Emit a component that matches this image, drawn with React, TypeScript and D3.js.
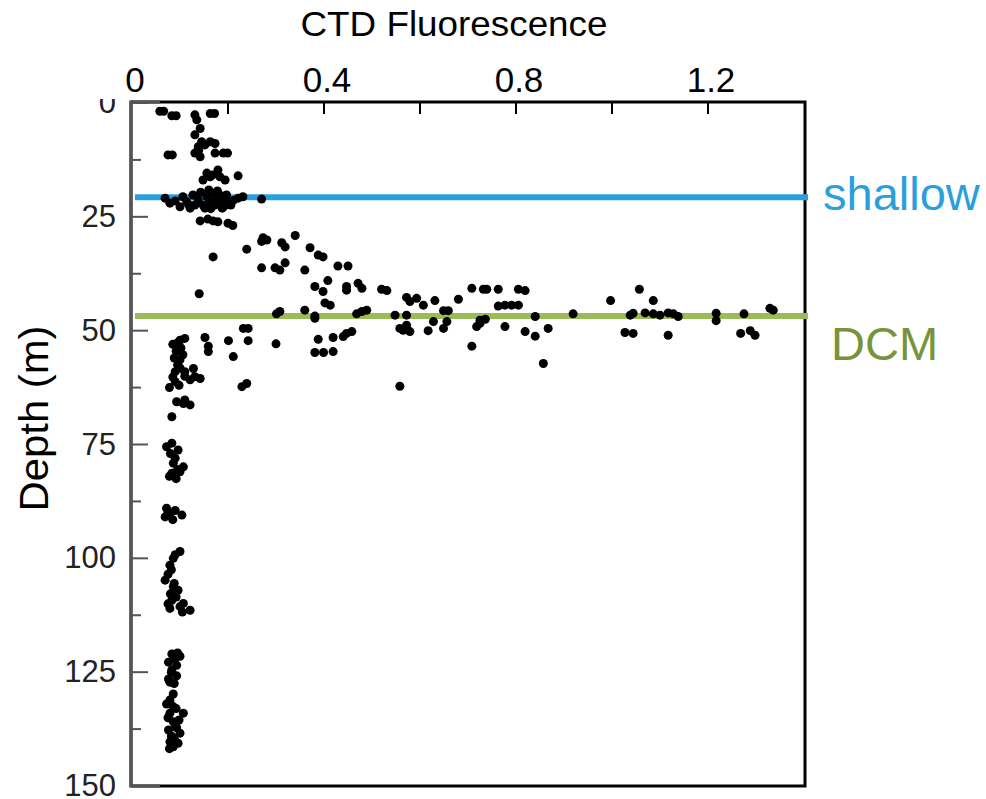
import React from "react";
import * as d3 from "d3";

type Obs = [number, number]; // [fluorescence, depth in m]

// CTD cast observations, grouped by layer
const mixedLayer: Obs[] = [
  [0.058, 1.8], [0.066, 1.8], [0.083, 2.8], [0.092, 2.8], [0.131, 2.6], [0.163, 2.3], [0.172, 2.3],
  [0.135, 3.7], [0.142, 5.6], [0.131, 7.0], [0.145, 8.5], [0.163, 8.5], [0.173, 8.9], [0.138, 9.6],
  [0.075, 11.4], [0.084, 11.4], [0.131, 11.0], [0.142, 11.8], [0.173, 11.0], [0.19, 11.0], [0.199, 11.0],
  [0.156, 15.4], [0.179, 14.7], [0.183, 16.2], [0.194, 16.9], [0.221, 16.0], [0.148, 16.9], [0.163, 16.2],
  [0.168, 15.8], [0.139, 10.4], [0.152, 9.2],
  [0.069, 20.9], [0.09, 21.5], [0.1, 22.8], [0.114, 21.7], [0.121, 23.1], [0.127, 20.2], [0.138, 21.3],
  [0.148, 22.4], [0.156, 20.6], [0.163, 21.7], [0.169, 19.8], [0.176, 20.9], [0.183, 20.2], [0.187, 21.7],
  [0.2, 21.7], [0.197, 20.2], [0.221, 20.9], [0.231, 20.6], [0.27, 21.1], [0.106, 20.6], [0.152, 23.1],
  [0.173, 22.4], [0.131, 22.4], [0.16, 19.1], [0.188, 23.1], [0.079, 22.0], [0.206, 22.4],
  [0.143, 19.6], [0.178, 19.3], [0.193, 22.6], [0.164, 23.2], [0.118, 22.3], [0.211, 21.4],
  [0.142, 25.9], [0.158, 25.5], [0.169, 25.9], [0.179, 26.1], [0.2, 26.4], [0.21, 26.9],
];

const transitionLayer: Obs[] = [
  [0.273, 29.6], [0.281, 30.1], [0.27, 30.4], [0.239, 32.1], [0.312, 30.7], [0.319, 31.6], [0.34, 29.1],
  [0.371, 31.8], [0.388, 33.4], [0.398, 33.8], [0.169, 33.8], [0.27, 36.2], [0.298, 36.2], [0.308, 36.7],
  [0.319, 35.1], [0.36, 36.7], [0.429, 35.8], [0.45, 35.8], [0.381, 40.3], [0.408, 39.0], [0.398, 41.4],
  [0.447, 40.3], [0.447, 41.1], [0.471, 39.6], [0.479, 40.7], [0.52, 40.9], [0.531, 41.2], [0.14, 41.9],
  [0.402, 43.9], [0.413, 44.4], [0.572, 42.7], [0.579, 43.6], [0.593, 42.9], [0.607, 44.4], [0.631, 43.4],
  [0.68, 43.1], [0.708, 40.7], [0.732, 40.9], [0.739, 40.9], [0.763, 40.9], [0.805, 40.9], [0.819, 41.2],
  [0.763, 44.6], [0.777, 44.4], [0.791, 44.4], [0.805, 44.4], [0.997, 43.4], [1.057, 40.9], [1.086, 43.4],
];

const dcmLayer: Obs[] = [
  [0.308, 45.8], [0.301, 46.3], [0.36, 45.5], [0.381, 46.8], [0.381, 47.3], [0.468, 46.3], [0.479, 45.8],
  [0.489, 45.5], [0.548, 46.6], [0.572, 46.6], [0.649, 45.6], [0.659, 45.6], [0.656, 48.0], [0.649, 49.5],
  [0.628, 48.0], [0.617, 50.0], [0.725, 47.7], [0.718, 49.1], [0.736, 47.5], [0.725, 48.4], [0.777, 49.1],
  [0.84, 46.9], [0.819, 50.2], [0.84, 51.2], [0.867, 49.5], [0.708, 53.4], [0.857, 57.2], [0.919, 46.3],
  [1.038, 46.6], [1.044, 46.2], [1.069, 46.1], [1.086, 46.3], [1.1, 46.6], [1.117, 46.1], [1.128, 46.3],
  [1.138, 46.9], [1.027, 50.4], [1.044, 50.6], [1.117, 51.0], [1.217, 46.2], [1.217, 47.8], [1.275, 46.3],
  [1.268, 50.6], [1.288, 50.0], [1.298, 51.0], [1.329, 45.1], [1.336, 45.5],
  [0.232, 49.5], [0.242, 49.5], [0.558, 49.5], [0.572, 48.8], [0.579, 50.2], [0.565, 49.9], [0.11, 51.7],
  [0.1, 52.1], [0.152, 51.5], [0.201, 52.2], [0.242, 52.2], [0.159, 53.4], [0.159, 54.6], [0.3, 52.9],
  [0.388, 51.9], [0.419, 51.5], [0.44, 51.3], [0.447, 50.6], [0.458, 50.2], [0.381, 54.8], [0.399, 54.8],
  [0.419, 54.6], [0.211, 55.7], [0.106, 55.3], [0.1, 56.4], [0.11, 59.0], [0.128, 58.3], [0.131, 60.1],
  [0.142, 60.5], [0.558, 62.2], [0.229, 62.3], [0.239, 61.6],
];

const deepLayer: Obs[] = [
  [0.085, 53.0], [0.092, 54.5], [0.088, 56.0], [0.095, 57.5], [0.09, 59.0], [0.085, 60.2], [0.1, 58.2],
  [0.11, 60.0], [0.098, 62.0], [0.078, 62.5], [0.09, 61.2], [0.121, 60.8], [0.102, 53.8], [0.096, 52.6],
  [0.11, 65.2], [0.093, 65.6], [0.107, 66.0], [0.121, 66.3], [0.083, 68.9],
  [0.072, 75.5], [0.083, 74.7], [0.096, 76.2], [0.086, 79.1], [0.107, 79.9], [0.083, 81.3], [0.1, 81.0],
  [0.08, 77.0], [0.09, 78.0], [0.095, 80.5], [0.078, 82.0], [0.092, 82.5],
  [0.072, 89.0], [0.079, 90.1], [0.104, 90.5], [0.069, 90.9], [0.075, 90.0], [0.085, 91.5], [0.09, 89.5],
  [0.1, 98.5], [0.086, 100.0], [0.079, 101.5], [0.069, 104.8], [0.086, 106.2], [0.096, 107.0], [0.083, 109.2],
  [0.079, 111.0], [0.1, 110.6], [0.121, 111.4], [0.107, 109.9], [0.09, 99.2], [0.082, 102.5], [0.075, 103.5],
  [0.088, 105.5], [0.08, 107.8], [0.092, 108.5], [0.075, 110.0], [0.105, 111.8],
  [0.083, 121.0], [0.1, 121.5], [0.076, 122.8], [0.093, 123.5], [0.083, 124.5], [0.076, 126.5],
  [0.093, 125.8], [0.079, 127.2], [0.09, 122.0], [0.082, 125.0], [0.095, 120.8], [0.088, 127.5],
  [0.086, 129.8], [0.079, 131.1], [0.107, 134.0], [0.079, 134.0], [0.086, 135.9], [0.076, 137.7],
  [0.1, 138.4], [0.079, 140.3], [0.086, 141.4], [0.096, 140.6], [0.085, 132.5], [0.092, 133.0],
  [0.075, 135.0], [0.09, 136.5], [0.082, 139.0], [0.093, 137.2], [0.078, 141.8], [0.088, 139.5],
  [0.098, 135.5], [0.072, 132.0],
];

// Axis ticks
const xTickValues = [0.2, 0.4, 0.6, 0.8, 1.0, 1.2];
const xLabelValues = [0, 0.4, 0.8, 1.2];
const yMajorTicks = [0, 25, 50, 75, 100, 125, 150];
const yMinorTicks = [12.5, 37.5, 62.5, 87.5, 112.5, 137.5];

// Reference depths (m)
const referenceNames = ["shallow", "DCM"];
const referenceDepths = [20.7, 46.8];

const WIDTH = 986;
const HEIGHT = 799;
const FONT = "Liberation Sans, Arial, Helvetica, sans-serif";

const refStyle: Record<string, { line: string; text: string; dx: number; dy: number }> = {
  shallow: { line: "#2a9fdc", text: "#2a9fdc", dx: 19, dy: 13 },
  DCM: { line: "#9bbb59", text: "#77933c", dx: 27, dy: 44 },
};

export default function App() {
  const x = d3.scaleLinear().domain([0, 1.4]).range([132, 804]);
  const y = d3.scaleLinear().domain([0, 150]).range([103, 786]);

  const [x0, x1] = x.range();
  const [y0, y1] = y.range();
  const all = [...mixedLayer, ...transitionLayer, ...dcmLayer, ...deepLayer];
  const fmt = d3.format("~g");

  return (
    <svg
      width={WIDTH}
      height={HEIGHT}
      style={{ position: "absolute", left: 0, top: 0, background: "#fff" }}
      fontFamily={FONT}
    >
      <defs>
        <clipPath id="ylabel-clip">
          <rect x={0} y={y0 - 4} width={x0} height={HEIGHT} />
        </clipPath>
      </defs>

      {/* frame */}
      <rect x={x0 - 1} y={y0 - 1} width={x1 - x0 + 2} height={y1 - y0 + 1} fill="none" stroke="#000" strokeWidth={3} />
      <line x1={x0 - 1} x2={x0 - 1} y1={y0 - 2} y2={y1 + 1} stroke="#555" strokeWidth={3} />
      <line x1={x0 - 1} x2={x0 + 28} y1={y1} y2={y1} stroke="#555" strokeWidth={3} />
      <line x1={x0 - 1} x2={x0 + 28} y1={y0 - 1} y2={y0 - 1} stroke="#555" strokeWidth={3} />

      {/* top axis ticks */}
      {xTickValues.map((v) => (
        <line key={`xt${v}`} x1={x(v)} x2={x(v)} y1={y0} y2={y0 + 11} stroke="#000" strokeWidth={2} />
      ))}
      {xLabelValues.map((v) => (
        <text key={`xl${v}`} x={x(v) + 3} y={92} fontSize={35} textAnchor="middle" fill="#000">
          {fmt(v)}
        </text>
      ))}
      <text x={(x0 + x1) / 2 - 14} y={36} fontSize={35} textAnchor="middle" fill="#000" textLength={307} lengthAdjust="spacingAndGlyphs">
        CTD Fluorescence
      </text>

      {/* left axis ticks */}
      {yMajorTicks.map((v) => (
        <line key={`ym${v}`} x1={x0} x2={x0 + 16} y1={y(v)} y2={y(v)} stroke="#555" strokeWidth={2} />
      ))}
      {yMinorTicks.map((v) => (
        <line key={`yn${v}`} x1={x0} x2={x0 + 9} y1={y(v)} y2={y(v)} stroke="#555" strokeWidth={2} />
      ))}
      <g clipPath="url(#ylabel-clip)">
        {yMajorTicks.map((v) => (
          <text key={`yl${v}`} x={116} y={y(v) + 10} fontSize={31} textAnchor="end" fill="#222">
            {v}
          </text>
        ))}
      </g>
      <text
        transform={`translate(48, ${(y0 + y1) / 2 - 26}) rotate(-90)`}
        fontSize={40}
        textAnchor="middle"
        fill="#000"
        textLength={186}
        lengthAdjust="spacingAndGlyphs"
      >
        Depth (m)
      </text>

      {/* reference depths */}
      {referenceNames.map((name, i) => {
        const s = refStyle[name];
        const yy = y(referenceDepths[i]);
        return (
          <g key={name}>
            <line x1={x0 + 3} x2={x1 + 4} y1={yy} y2={yy} stroke={s.line} strokeWidth={6} />
            <text x={x1 + s.dx} y={yy + s.dy} fontSize={47} fill={s.text}>
              {name}
            </text>
          </g>
        );
      })}

      {/* observations */}
      <g fill="#000">
        {all.map((d, i) => (
          <circle key={i} cx={x(d[0])} cy={y(d[1])} r={4.5} />
        ))}
      </g>
    </svg>
  );
}
